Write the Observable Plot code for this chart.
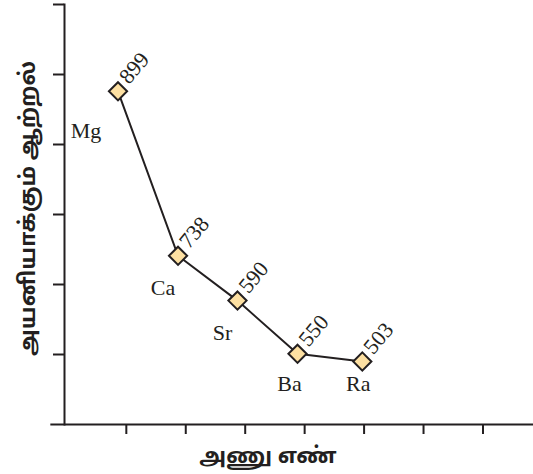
<!DOCTYPE html>
<html>
<head>
<meta charset="utf-8">
<script src="https://cdn.jsdelivr.net/npm/d3@7"></script>
<script src="https://cdn.jsdelivr.net/npm/@observablehq/plot@0.6"></script>
<style>
  html, body { margin: 0; padding: 0; background: #fff; }
  svg { display: block; }
</style>
</head>
<body>
<div id="chart"></div>
<script>
// Group 2 elements and their first ionisation energies (labels in the figure)
const elements = ["Mg", "Ca", "Sr", "Ba", "Ra"];
const energies = [899, 738, 590, 550, 503];
// Positions (in axis tick units)
const atomicPos = [0.86, 1.87, 2.87, 3.88, 4.97];
const plottedLevel = [4.76, 2.41, 1.77, 1.01, 0.90];
const xTicks = [1, 2, 3, 4, 5, 6, 7];
const yTicks = [1, 2, 3, 4, 5, 6];
const xLabel = "அணு எண்";
const yLabel = "அயனியாக்கும் ஆற்றல்";

const data = elements.map((e, i) => ({
  el: e, energy: energies[i], x: atomicPos[i], y: plottedLevel[i], i
}));

const ink = "#231f20";
const serif = "'Liberation Serif', 'DejaVu Serif', serif";
const tamil = "'Noto Sans Tamil', 'Noto Sans', 'Lato', sans-serif";

const elText = (filter, dx, dy) => Plot.text(data.filter(filter), {
  x: "x", y: "y", text: "el", dx, dy,
  fontSize: 22, fontFamily: serif, fill: ink
});

const chart = Plot.plot({
  width: 533,
  height: 474,
  marginLeft: 64,
  marginRight: 0,
  marginTop: 4,
  marginBottom: 50,
  x: { domain: [-0.04, 7.85] },
  y: { domain: [0, 6] },
  marks: [
    Plot.ruleY([0], { x1: -0.27, x2: 7.85, stroke: ink, strokeWidth: 2 }),
    Plot.frame({ anchor: "left", stroke: ink, strokeWidth: 2 }),
    Plot.axisX({ ticks: xTicks, tickSize: 10, tickFormat: () => "", label: null, stroke: ink, strokeWidth: 2 }),
    Plot.axisY({ ticks: yTicks, tickSize: 11, tickFormat: () => "", label: null, stroke: ink, strokeWidth: 2 }),
    Plot.line(data, { x: "x", y: "y", stroke: ink, strokeWidth: 2 }),
    Plot.dot(data, { x: "x", y: "y", symbol: "diamond2", r: 8.2, fill: "#fde0a2", stroke: ink, strokeWidth: 2 }),
    Plot.text(data, {
      x: "x", y: "y", text: d => String(d.energy), rotate: -50,
      textAnchor: "start", lineAnchor: "bottom", dx: 11, dy: -6,
      fontSize: 22, fontFamily: serif, fill: ink
    }),
    elText(d => d.i === 0, -32, 40),
    elText(d => d.i === 1 || d.i === 2, -15, 32),
    elText(d => d.i === 3, -8, 30),
    elText(d => d.i === 4, -4, 22),
    Plot.text([xLabel], {
      frameAnchor: "bottom", text: d => d, dx: -31, dy: 31,
      textAnchor: "middle", lineAnchor: "middle",
      fontSize: 22, fontWeight: "bold", fontFamily: tamil, fill: ink
    }),
    Plot.text([yLabel], {
      frameAnchor: "left", text: d => d, rotate: -90, dx: -37, dy: -6,
      textAnchor: "middle", lineAnchor: "middle",
      fontSize: 22, fontWeight: "bold", fontFamily: tamil, fill: ink
    })
  ]
});
document.getElementById("chart").appendChild(chart);
</script>
</body>
</html>
